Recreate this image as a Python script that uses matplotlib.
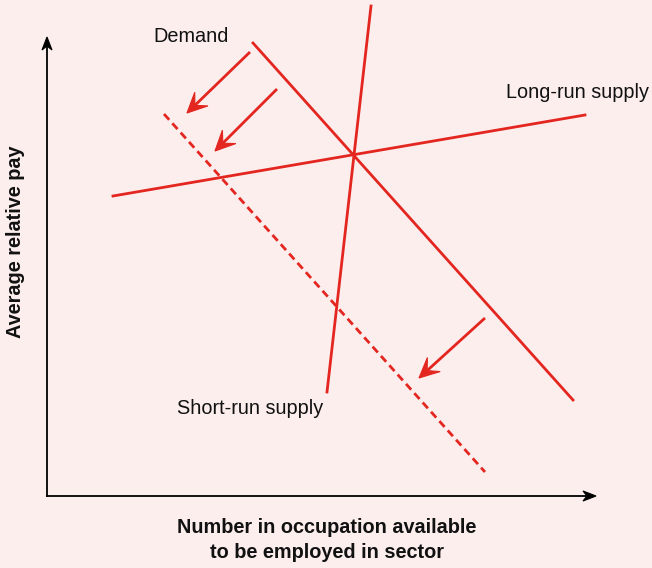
import matplotlib.pyplot as plt
import numpy as np
from matplotlib.patches import Polygon

plt.rcParams['font.family'] = ['Liberation Sans', 'DejaVu Sans']

BG = "#fdeeee"
RED = "#e3261f"

# curve end points, in picture units (x right, y down)
demand_x = [253, 573]
demand_y = [43, 400]
demand_new_x = [164, 485]
demand_new_y = [114, 472]
lr_supply_x = [113, 585]
lr_supply_y = [196, 115]
sr_supply_x = [327, 371]
sr_supply_y = [392, 6]

# shift arrows: (x0, y0, x1, y1)
shift_arrows = [(250, 52, 187, 113),
                (277, 89, 215, 151),
                (485, 318, 419, 378)]

labels = ["Demand", "Long-run supply", "Short-run supply"]
label_xy = [(191, 36), (578, 93), (250, 408)]

xlabel = "Number in occupation available\nto be employed in sector"
ylabel = "Average relative pay"


def arrow(ax, x0, y0, x1, y1, color, lw, hl, hw, notch):
    # line plus a swept-back (concave) head
    d = np.array([x1 - x0, y1 - y0], float)
    d /= np.hypot(*d)
    n = np.array([-d[1], d[0]])
    tip = np.array([x1, y1], float)
    back = tip - d * hl
    mid = tip - d * notch
    ax.plot([x0, mid[0]], [y0, mid[1]], color=color, lw=lw,
            solid_capstyle="butt")
    ax.add_patch(Polygon([tip, back + n * hw, mid, back - n * hw],
                         closed=True, facecolor=color, edgecolor=color,
                         lw=0.8, zorder=3))


fig = plt.figure(figsize=(6.52, 5.68), dpi=100)
fig.patch.set_facecolor(BG)
ax = fig.add_axes([0, 0, 1, 1])
ax.set_facecolor(BG)
ax.set_xlim(0, 652)
ax.set_ylim(568, 0)
ax.set_axis_off()

# axes with arrow heads
arrow(ax, 47, 497, 47, 37, "black", 1.3, 13, 5, 9)
arrow(ax, 46, 496, 596, 496, "black", 1.3, 13, 5, 9)

ax.plot(demand_x, demand_y, color=RED, lw=2)
ax.plot(demand_new_x, demand_new_y, color=RED, lw=2, ls=(0, (2.8, 1.7)))
ax.plot(lr_supply_x, lr_supply_y, color=RED, lw=2)
ax.plot(sr_supply_x, sr_supply_y, color=RED, lw=2)

for x0, y0, x1, y1 in shift_arrows:
    arrow(ax, x0, y0, x1, y1, RED, 2, 20, 9.5, 11)

for txt, (x, y) in zip(labels, label_xy):
    ax.text(x, y, txt, fontsize=14.3, ha="center", va="center", color="#111111")

ax.text(327, 540, xlabel, fontsize=14.3, fontweight="bold", ha="center",
        va="center", linespacing=1.35, color="#111111")
ax.text(16, 242, ylabel, fontsize=14.3, fontweight="bold", ha="center",
        va="center", rotation=90, color="#111111")

fig.savefig("out.png", dpi=100, facecolor=BG)
